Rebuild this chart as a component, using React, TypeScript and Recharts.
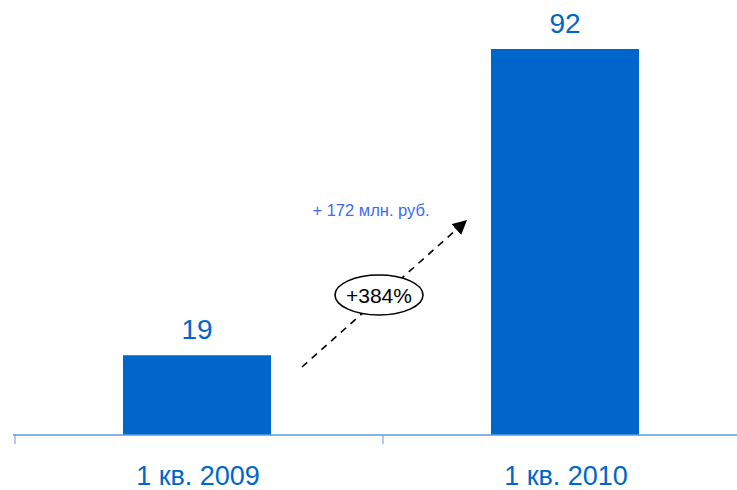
import { BarChart, Bar, XAxis, YAxis, LabelList } from "recharts";

const periods = ["1 кв. 2009", "1 кв. 2010"];
const values = [19, 92];
const deltaText = "+ 172 млн. руб.";
const growthText = "+384%";

const BLUE = "#0066CC";
const AXIS = "#5B9BE0";
const W = 737;
const H = 490;
// plot spans 13..749, so each category is 368px wide
const BAND = 368;

const data = periods.map((p, i) => ({ period: p, value: values[i] }));

function PeriodTick(props: any) {
  const { x, y, payload } = props;
  const left = x - BAND / 2 + 2;
  return (
    <g>
      <line x1={left} y1={y} x2={left} y2={y + 9} stroke={AXIS} strokeWidth={1} />
      <text x={x + 1} y={y + 50} textAnchor="middle" fill={BLUE} fontSize={27}>
        {payload.value}
      </text>
    </g>
  );
}

export default function App() {
  return (
    <div
      style={{
        position: "absolute",
        left: 0,
        top: 0,
        width: W,
        height: H,
        overflow: "hidden",
        background: "#fff",
        fontFamily: "'Liberation Sans', Arial, sans-serif",
      }}
    >
      <BarChart
        width={W + 12}
        height={H}
        data={data}
        margin={{ top: 49, right: 0, left: 13, bottom: 25 }}
        style={{ fontFamily: "'Liberation Sans', Arial, sans-serif" }}
      >
        <XAxis
          dataKey="period"
          height={30}
          axisLine={{ stroke: AXIS, strokeWidth: 1.5 }}
          tickLine={false}
          tickSize={0}
          tickMargin={0}
          tick={<PeriodTick />}
          interval={0}
        />
        <YAxis hide domain={[0, 92]} />
        <Bar dataKey="value" fill={BLUE} barSize={148} isAnimationActive={false}>
          <LabelList dataKey="value" position="top" offset={16} fill={BLUE} fontSize={28} />
        </Bar>
      </BarChart>
      <svg
        width={W}
        height={H}
        style={{ position: "absolute", left: 0, top: 0, pointerEvents: "none" }}
      >
        <defs>
          <marker id="head" viewBox="0 0 10 10" refX="9" refY="5" markerWidth="9" markerHeight="9" orient="auto">
            <path d="M0,0 L10,5 L0,10 z" fill="#000" />
          </marker>
        </defs>
        <line
          x1={302}
          y1={367}
          x2={466}
          y2={221}
          stroke="#000"
          strokeWidth={1.6}
          strokeDasharray="7 6"
          markerEnd="url(#head)"
        />
        <ellipse cx={379} cy={295} rx={44} ry={20} fill="#fff" stroke="#000" strokeWidth={1.6} />
        <text x={379} y={303} textAnchor="middle" fontSize={21} fill="#000">
          {growthText}
        </text>
        <text x={371} y={216} textAnchor="middle" fontSize={16.5} fill="#3D6BF5">
          {deltaText}
        </text>
      </svg>
    </div>
  );
}
